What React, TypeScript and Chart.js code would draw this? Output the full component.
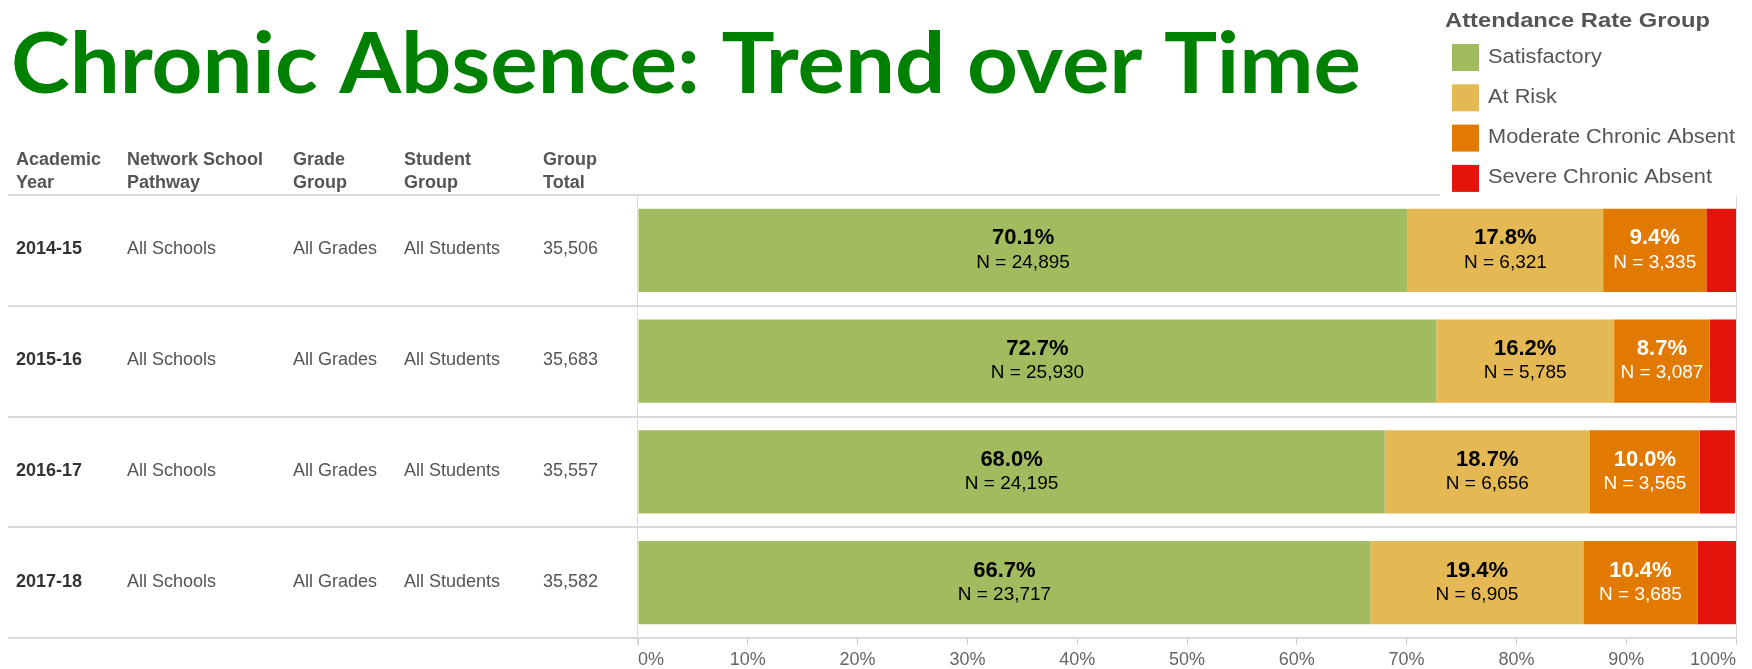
import { useEffect, useRef } from "react";
import { Chart, registerables } from "chart.js";

Chart.register(...registerables);

const titleText = "Chronic Absence: Trend over Time";
const legendTitle = "Attendance Rate Group";
const headerLines = [
  ["Academic", "Year"],
  ["Network School", "Pathway"],
  ["Grade", "Group"],
  ["Student", "Group"],
  ["Group", "Total"],
];
const years = ["2014-15", "2015-16", "2016-17", "2017-18"];
const pathways = ["All Schools", "All Schools", "All Schools", "All Schools"];
const gradeGroups = ["All Grades", "All Grades", "All Grades", "All Grades"];
const studentGroups = ["All Students", "All Students", "All Students", "All Students"];
const groupTotals = [35506, 35683, 35557, 35582];

const categories = ["Satisfactory", "At Risk", "Moderate Chronic Absent", "Severe Chronic Absent"];
const colors = ["#A2BB5F", "#E4B852", "#E27A02", "#E2140C"];
const labelColors = ["#000000", "#000000", "#FFFFFF", "#FFFFFF"];

const satisfactoryPct = [70.1, 72.7, 68.0, 66.7];
const atRiskPct = [17.8, 16.2, 18.7, 19.4];
const moderatePct = [9.4, 8.7, 10.0, 10.4];
const severePct = [2.7, 2.5, 3.2, 3.6];

const satisfactoryN = [24895, 25930, 24195, 23717];
const atRiskN = [6321, 5785, 6656, 6905];
const moderateN = [3335, 3087, 3565, 3685];
const severeN = [955, 881, 1141, 1275];

const xTicks = [0, 10, 20, 30, 40, 50, 60, 70, 80, 90, 100];

const W = 1752;
const H = 669;
const FONT = "'Liberation Sans', Arial, sans-serif";
const colX = [16, 127, 293, 404, 543];

const fmt = (n: number) => n.toLocaleString("en-US");

function drawScaled(ctx: CanvasRenderingContext2D, text: string, x: number, y: number, sx: number) {
  ctx.save();
  ctx.translate(x, y);
  ctx.scale(sx, 1);
  ctx.fillText(text, 0, 0);
  ctx.restore();
}

export default function App() {
  const ref = useRef<HTMLCanvasElement | null>(null);

  useEffect(() => {
    if (!ref.current) return;
    const pctSeries = [satisfactoryPct, atRiskPct, moderatePct, severePct];
    const nSeries = [satisfactoryN, atRiskN, moderateN, severeN];

    const decor = {
      id: "decor",
      beforeDraw(chart: any) {
        const ctx = chart.ctx as CanvasRenderingContext2D;
        const area = chart.chartArea;
        const ys = chart.scales.y;
        ctx.save();
        ctx.fillStyle = "#ffffff";
        ctx.fillRect(0, 0, W, H);

        // Title
        ctx.font = `bold 84px Lato, 'Open Sans', sans-serif`;
        ctx.fillStyle = "#008000";
        ctx.textBaseline = "alphabetic";
        ctx.textAlign = "left";
        const tw = ctx.measureText(titleText).width;
        drawScaled(ctx, titleText, 11, 93, 1350 / tw);

        // Table header
        ctx.fillStyle = "#555555";
        ctx.font = `bold 18px ${FONT}`;
        ctx.textBaseline = "middle";
        headerLines.forEach((ln, i) => {
          ctx.fillText(ln[0], colX[i], 160);
          ctx.fillText(ln[1], colX[i], 183);
        });

        // Row lines
        const n = years.length;
        const band = (area.bottom - area.top) / n;
        ctx.strokeStyle = "#dadada";
        ctx.lineWidth = 2;
        ctx.beginPath();
        ctx.moveTo(8, area.top);
        ctx.lineTo(1440, area.top);
        for (let i = 1; i <= n; i++) {
          const y = Math.round(area.top + i * band);
          ctx.moveTo(8, y);
          ctx.lineTo(area.right, y);
        }
        ctx.stroke();
        ctx.lineWidth = 1;
        ctx.beginPath();
        ctx.moveTo(area.left - 0.5, area.top);
        ctx.lineTo(area.left - 0.5, area.bottom + 7);
        ctx.moveTo(area.right + 0.5, area.top);
        ctx.lineTo(area.right + 0.5, area.bottom);
        ctx.stroke();

        // Row text
        years.forEach((yr, i) => {
          const cy = ys.getPixelForValue(i) - 1;
          ctx.font = `bold 18px ${FONT}`;
          ctx.fillStyle = "#333333";
          ctx.fillText(yr, colX[0], cy);
          ctx.font = `18px ${FONT}`;
          ctx.fillStyle = "#555555";
          ctx.fillText(pathways[i], colX[1], cy);
          ctx.fillText(gradeGroups[i], colX[2], cy);
          ctx.fillText(studentGroups[i], colX[3], cy);
          ctx.fillText(fmt(groupTotals[i]), colX[4], cy);
        });

        // Legend
        ctx.font = `bold 20px ${FONT}`;
        ctx.fillStyle = "#555555";
        const ltw = ctx.measureText(legendTitle).width;
        drawScaled(ctx, legendTitle, 1445, 21, 265 / ltw);
        ctx.font = `20px ${FONT}`;
        const refW = ctx.measureText(categories[2]).width;
        const sx = 247 / refW;
        categories.forEach((c, i) => {
          const cy = 57 + i * 40.3;
          ctx.fillStyle = colors[i];
          ctx.fillRect(1452, cy - 13, 27, 27);
          ctx.fillStyle = "#555555";
          drawScaled(ctx, c, 1488, cy, sx);
        });
        ctx.restore();
      },
      afterDatasetsDraw(chart: any) {
        const ctx = chart.ctx as CanvasRenderingContext2D;
        ctx.save();
        ctx.textAlign = "center";
        ctx.textBaseline = "middle";
        for (let d = 0; d < 3; d++) {
          const meta = chart.getDatasetMeta(d);
          meta.data.forEach((bar: any, i: number) => {
            const cx = (bar.x + bar.base) / 2;
            const cy = bar.y;
            ctx.fillStyle = labelColors[d];
            ctx.font = `bold 22px ${FONT}`;
            ctx.fillText(pctSeries[d][i].toFixed(1) + "%", cx, cy - 12);
            ctx.font = `19px ${FONT}`;
            ctx.fillText("N = " + fmt(nSeries[d][i]), cx, cy + 12);
          });
        }
        ctx.restore();
      },
    };

    const chart = new Chart(ref.current, {
      type: "bar",
      data: {
        labels: years,
        datasets: categories.map((c, d) => ({
          label: c,
          data: pctSeries[d],
          backgroundColor: colors[d],
          borderWidth: 0,
          barPercentage: 0.75,
          categoryPercentage: 1,
        })),
      },
      options: {
        indexAxis: "y",
        animation: false,
        responsive: false,
        maintainAspectRatio: false,
        layout: { padding: { left: 638, right: 16, top: 195, bottom: 0 } },
        plugins: {
          legend: { display: false },
          tooltip: { enabled: false },
        },
        scales: {
          x: {
            stacked: true,
            min: 0,
            max: 100,
            afterBuildTicks: (scale: any) => {
              scale.ticks = xTicks.map((v) => ({ value: v }));
            },
            afterFit: (scale: any) => {
              scale.height = 31;
            },
            ticks: {
              callback: (v: any) => v + "%",
              align: "inner",
              color: "#666666",
              font: { family: FONT, size: 18 },
              padding: 4,
              maxRotation: 0,
              autoSkip: false,
            },
            grid: { drawOnChartArea: false, drawTicks: true, tickLength: 7, color: "#cccccc" },
            border: { display: true, color: "#dadada" },
          },
          y: { stacked: true, display: false },
        },
      },
      plugins: [decor],
    } as any);

    return () => chart.destroy();
  }, []);

  return (
    <div style={{ position: "absolute", left: 0, top: 0, width: W, height: H, background: "#fff" }}>
      <canvas ref={ref} width={W} height={H} style={{ width: W, height: H, display: "block" }} />
    </div>
  );
}
